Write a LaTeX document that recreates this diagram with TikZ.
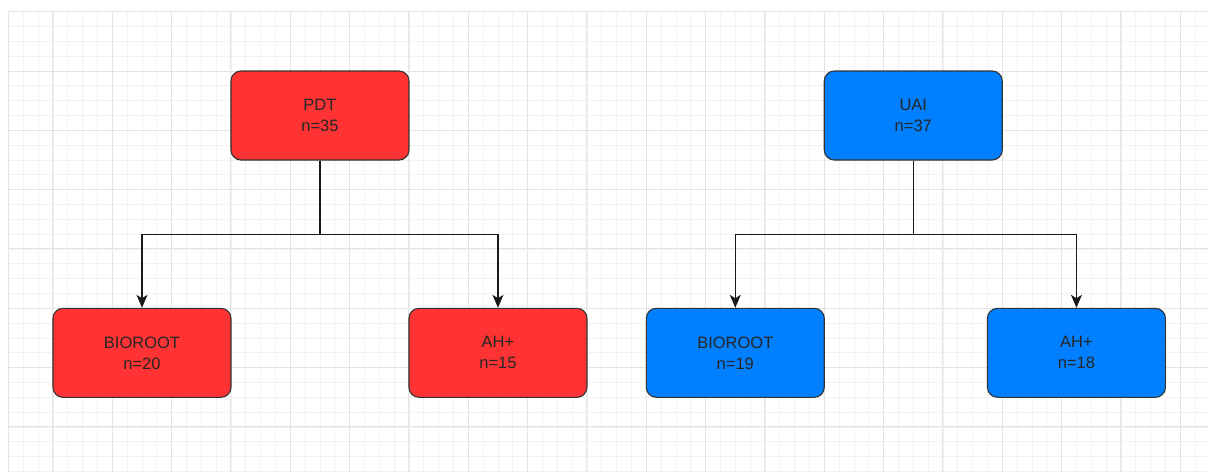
\documentclass[tikz,border=0pt]{standalone}
\usepackage{fontspec}
\setmainfont{Liberation Sans}
\usetikzlibrary{arrows.meta}
\definecolor{pdtred}{HTML}{FF3333}
\definecolor{uaiblue}{HTML}{007FFF}
\definecolor{minorgray}{HTML}{F2F2F2}
\definecolor{majorgray}{HTML}{E4E4E4}
\def\g{14.833pt}
\tikzset{
    box/.style={draw=black!80,line width=1.1pt,rounded corners=10pt,align=center,
        minimum width={12*\g},minimum height={6*\g},inner sep=0pt,text=black!85,
        font=\fontsize{16.5}{21}\selectfont},
    redbox/.style={box,fill=pdtred},
    bluebox/.style={box,fill=uaiblue},
    link/.style={line width=1.2pt,black!90,-{Stealth[length=13pt,width=11pt,inset=3.5pt]}},
    minorline/.style={minorgray,line width=0.8pt},
    majorline/.style={majorgray,line width=1pt}
}

\begin{document}
\begin{tikzpicture}[x=\g,y=-\g]
  \useasboundingbox (-3.573,-4.787) rectangle (77.87,27.03);

  % Grid
  \foreach \i in {-3,...,77} \draw[minorline] (\i,-4) -- (\i,27.03);
  \foreach \j in {-4,...,27} \draw[minorline] (-3,\j) -- (77.87,\j);
  \foreach \i in {0,4,...,76} \draw[majorline] (\i,-4) -- (\i,27.03);
  \foreach \j in {-4,0,...,24} \draw[majorline] (-3,\j) -- (77.87,\j);
  \draw[majorline] (-3,-4) -- (-3,27.03);

  % PDT
  \node[redbox] (pdt) at (18,3) {PDT\\n=35};
  \node[redbox] (pdtbio) at (6,19) {BIOROOT\\n=20};
  \node[redbox] (pdtah) at (30,19) {AH+\\n=15};

  % UAI
  \node[bluebox] (uai) at (58,3) {UAI\\n=37};
  \node[bluebox] (uaibio) at (46,19) {BIOROOT\\n=19};
  \node[bluebox] (uaiah) at (69,19) {AH+\\n=18};

  % Links
  \draw[link] (pdt.south) -- ++(0,5) -| (pdtbio.north);
  \draw[link] (pdt.south) -- ++(0,5) -| (pdtah.north);
  \draw[link] (uai.south) -- ++(0,5) -| (uaibio.north);
  \draw[link] (uai.south) -- ++(0,5) -| (uaiah.north);
\end{tikzpicture}
\end{document}
